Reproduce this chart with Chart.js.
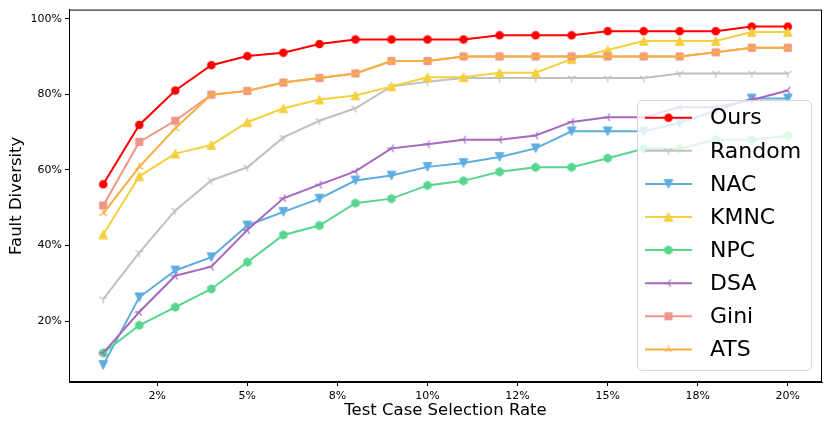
<!DOCTYPE html>
<html>
<head>
<meta charset="utf-8">
<script src="https://cdn.jsdelivr.net/npm/chart.js@4.4.1/dist/chart.umd.min.js"></script>
<style>
  html, body { margin: 0; padding: 0; background: #fff; }
</style>
</head>
<body>
<canvas id="faultChart" width="831" height="430"></canvas>
<script>
// selection rate (%) for each point
const rates = [1, 2, 3, 4, 5, 6, 7, 8, 9, 10, 11, 12, 13, 14, 15, 16, 17, 18, 19, 20];
const xTickValues = [2.5, 5, 7.5, 10, 12.5, 15, 17.5, 20];
const xTickLabels = ['2%', '5%', '8%', '10%', '12%', '15%', '18%', '20%'];
const yTickValues = [20, 40, 60, 80, 100];

const seriesNames = ['Ours', 'Random', 'NAC', 'KMNC', 'NPC', 'DSA', 'Gini', 'ATS'];
const ours   = [56.2, 71.9, 81.0, 87.7, 90.1, 91.0, 93.3, 94.5, 94.5, 94.5, 94.5, 95.6, 95.6, 95.6, 96.7, 96.7, 96.7, 96.7, 97.9, 97.9];
const random = [25.8, 38.1, 49.3, 57.2, 60.7, 68.6, 73.0, 76.3, 82.1, 83.3, 84.3, 84.3, 84.3, 84.3, 84.3, 84.3, 85.5, 85.5, 85.5, 85.5];
const nac    = [8.4, 26.3, 33.4, 36.9, 45.3, 48.9, 52.4, 57.2, 58.5, 60.8, 61.8, 63.4, 65.7, 70.2, 70.2, 70.2, 72.4, 75.7, 78.9, 78.9];
const kmnc   = [42.9, 58.3, 64.3, 66.6, 72.6, 76.3, 78.6, 79.7, 82.1, 84.5, 84.5, 85.7, 85.7, 89.3, 91.7, 94.1, 94.1, 94.1, 96.5, 96.5];
const npc    = [11.6, 18.9, 23.7, 28.5, 35.6, 42.8, 45.3, 51.2, 52.4, 55.9, 57.1, 59.5, 60.7, 60.7, 63.1, 65.6, 65.6, 68.0, 68.0, 69.1];
const dsa    = [11.6, 22.4, 32.0, 34.4, 44.1, 52.5, 56.1, 59.6, 65.7, 66.8, 68.0, 68.0, 69.1, 72.7, 73.9, 73.9, 76.6, 76.6, 78.5, 81.0];
const gini   = [50.6, 67.4, 73.0, 79.9, 80.9, 83.1, 84.3, 85.5, 88.8, 88.8, 90.0, 90.0, 90.0, 90.0, 90.0, 90.0, 90.0, 91.1, 92.3, 92.3];
const ats    = [48.5, 60.8, 71.0, 79.9, 80.9, 83.1, 84.3, 85.5, 88.8, 88.8, 90.0, 90.0, 90.0, 90.0, 90.0, 90.0, 90.0, 91.1, 92.3, 92.3];

const seriesColors  = ['#ff0000', '#c0c0c0', '#5dade2', '#f4d03f', '#58d68d', '#a569bd', '#f1948a', '#f5b041'];
const seriesMarkers = ['circle', 'triDown', 'triangleDown', 'triangleUp', 'hexagon', 'triLeft', 'square', 'triUp'];
const seriesValues  = [ours, random, nac, kmnc, npc, dsa, gini, ats];

const FONT = "'DejaVu Sans', sans-serif";

// matplotlib-like marker images
function makeMarker(kind, color) {
    const c = document.createElement('canvas');
    c.width = 14; c.height = 14;
    const g = c.getContext('2d');
    const m = 7, r = 4.3;
    g.fillStyle = color;
    g.strokeStyle = color;
    g.lineWidth = 1.3;
    g.lineJoin = 'miter';
    g.beginPath();
    if (kind === 'circle') {
        g.arc(m, m, r, 0, Math.PI * 2);
        g.fill();
    } else if (kind === 'square') {
        g.rect(m - 3.6, m - 3.6, 7.2, 7.2);
        g.fill(); g.lineWidth = 1; g.stroke();
    } else if (kind === 'triangleUp' || kind === 'triangleDown') {
        const d = kind === 'triangleUp' ? 1 : -1;
        g.moveTo(m, m - d * r);
        g.lineTo(m - r, m + d * r);
        g.lineTo(m + r, m + d * r);
        g.closePath();
        g.fill(); g.lineWidth = 1; g.stroke();
    } else if (kind === 'hexagon') {
        for (let i = 0; i < 6; i++) {
            const a = -Math.PI / 2 + i * Math.PI / 3;
            const px = m + r * Math.cos(a), py = m + r * Math.sin(a);
            if (i === 0) g.moveTo(px, py); else g.lineTo(px, py);
        }
        g.closePath();
        g.fill(); g.lineWidth = 1; g.stroke();
    } else {
        // tri markers: three arms from the centre
        let start = 0;
        if (kind === 'triDown') start = Math.PI / 2;
        if (kind === 'triUp') start = -Math.PI / 2;
        if (kind === 'triLeft') start = Math.PI;
        for (let i = 0; i < 3; i++) {
            const a = start + i * 2 * Math.PI / 3;
            g.moveTo(m, m);
            g.lineTo(m + r * Math.cos(a), m + r * Math.sin(a));
        }
        g.stroke();
    }
    return c;
}

const markerImages = seriesMarkers.map((k, i) => makeMarker(k, seriesColors[i]));

const datasets = seriesNames.map((name, i) => ({
    label: name,
    data: rates.map((r, j) => ({ x: r, y: seriesValues[i][j] })),
    borderColor: seriesColors[i],
    backgroundColor: seriesColors[i],
    borderWidth: 2,
    pointStyle: markerImages[i],
    pointRadius: 5,
    tension: 0,
    order: seriesNames.length - i  // later series on top, like matplotlib
}));

// black box around the plot area + legend box inside it
const framePlugin = {
    id: 'frameAndLegend',
    afterDatasetsDraw(chart) {
        const ctx = chart.ctx;
        const a = chart.chartArea;
        ctx.save();
        ctx.strokeStyle = '#000';
        ctx.lineWidth = 1;
        ctx.strokeRect(a.left + 0.5, a.top + 0.5, a.right - a.left - 1, a.bottom - a.top - 1);

        // legend
        const bx = 637, by = 100, bw = 174, bh = 270, rad = 5;
        ctx.beginPath();
        ctx.roundRect(bx + 0.5, by + 0.5, bw, bh, rad);
        ctx.fillStyle = 'rgba(255,255,255,0.8)';
        ctx.fill();
        ctx.strokeStyle = '#d6d6d6';
        ctx.lineWidth = 1;
        ctx.stroke();

        ctx.font = '22px ' + FONT;
        ctx.textBaseline = 'middle';
        seriesNames.forEach((name, i) => {
            const y = 117.7 + i * 33.1;
            ctx.beginPath();
            ctx.strokeStyle = seriesColors[i];
            ctx.lineWidth = 2;
            ctx.moveTo(645, y);
            ctx.lineTo(692, y);
            ctx.stroke();
            const img = markerImages[i];
            ctx.drawImage(img, 668.5 - img.width / 2, y - img.height / 2);
            ctx.fillStyle = '#000';
            ctx.fillText(name, 710, y + 1);
        });
        ctx.restore();
    }
};

const ctx = document.getElementById('faultChart').getContext('2d');
const faultChart = new Chart(ctx, {
    type: 'line',
    data: { datasets: datasets },
    options: {
        responsive: false,
        animation: false,
        devicePixelRatio: 1,
        layout: { padding: { top: 8, right: 9, left: 0, bottom: 0 } },
        plugins: {
            legend: { display: false },
            tooltip: { enabled: false }
        },
        scales: {
            x: {
                type: 'linear',
                min: 0.05,
                max: 20.95,
                afterBuildTicks: s => { s.ticks = xTickValues.map(v => ({ value: v })); },
                afterFit: s => { s.height = 48; },
                ticks: {
                    callback: (v, i) => xTickLabels[i],
                    color: '#000',
                    font: { family: FONT, size: 11 },
                    padding: 4,
                    maxRotation: 0
                },
                grid: { drawOnChartArea: false, drawTicks: true, tickLength: 4, color: '#000' },
                border: { color: '#000' },
                title: {
                    display: true,
                    text: 'Test Case Selection Rate',
                    color: '#000',
                    font: { family: FONT, size: 16.5 },
                    padding: { top: 2, bottom: 9 }
                }
            },
            y: {
                min: 3.9,
                max: 102.4,
                afterBuildTicks: s => { s.ticks = yTickValues.map(v => ({ value: v })); },
                afterFit: s => { s.width = 69; },
                ticks: {
                    callback: v => v + '%',
                    color: '#000',
                    font: { family: FONT, size: 11 },
                    padding: 3
                },
                grid: { drawOnChartArea: false, drawTicks: true, tickLength: 4, color: '#000' },
                border: { color: '#000' },
                title: {
                    display: true,
                    text: 'Fault Diversity',
                    color: '#000',
                    font: { family: FONT, size: 16.5 },
                    padding: { top: 7, bottom: 2 }
                }
            }
        }
    },
    plugins: [framePlugin]
});
</script>
</body>
</html>
